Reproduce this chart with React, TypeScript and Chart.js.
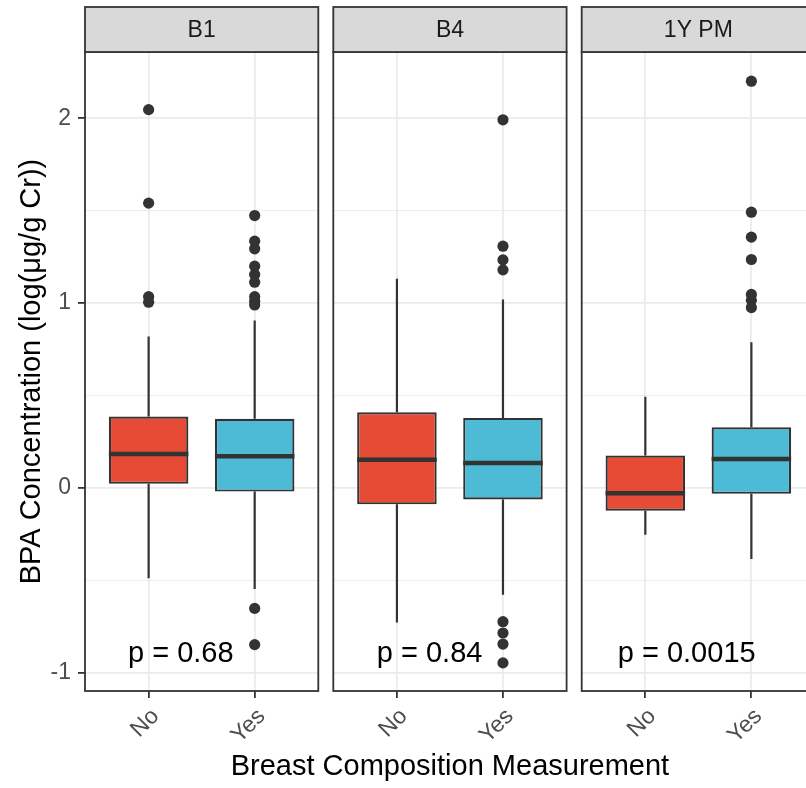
import React, { useEffect, useRef } from "react";
import { Chart, registerables } from "chart.js";
Chart.register(...registerables);

// ---------- data ----------
const panels = ["B1", "B4", "1Y PM"];
const groups = ["No", "Yes"];
const groupColors = ["#E64B35", "#4DBBD5"];

// per panel: [No, Yes]
const lowerWhisker = [[-0.489, -0.547], [-0.728, -0.578], [-0.253, -0.384]];
const q1 = [[0.022, -0.02], [-0.089, -0.063], [-0.123, -0.032]];
const median = [[0.184, 0.171], [0.152, 0.135], [-0.029, 0.157]];
const q3 = [[0.386, 0.374], [0.409, 0.379], [0.175, 0.328]];
const upperWhisker = [[0.819, 0.906], [1.132, 1.019], [0.494, 0.788]];
const outliersNo = [[2.047, 1.541, 1.035, 1.005], [], []];
const outliersYes = [
  [1.474, 1.335, 1.294, 1.2, 1.155, 1.113, 1.035, 1.01, 0.99, -0.652, -0.848],
  [1.992, 1.308, 1.234, 1.18, -0.724, -0.785, -0.845, -0.947],
  [2.201, 1.492, 1.357, 1.236, 1.047, 1.015, 0.976],
];
const pLabels = ["p = 0.68", "p = 0.84", "p = 0.0015"];
const pLabelX = [0.805, 0.81, 0.74];
const pLabelY = -0.9;
const yMin = -1.099;
const yMax = 2.359;
const yTicks = [-1, -0.5, 0, 0.5, 1, 1.5, 2];
const xTitle = "Breast Composition Measurement";
const yTitle = "BPA Concentration (log(μg/g Cr))";

// ---------- layout ----------
const W = 830;
const H = 788;
const FONT = '"Liberation Sans", Arial, Helvetica, sans-serif';
const panelLeft = [85, 333.3, 581.7];
const panelWidth = 233.3;
const panelTop = 52;
const stripH = 45;
const xAxisH = 97;
const DARK = "#333333";

function makeConfig(i: number): any {
  const isInt = (v: number) => Math.abs(v - Math.round(v)) < 1e-9;
  const plugin = {
    id: "facet" + i,
    beforeDatasetsDraw(chart: any) {
      const { ctx, scales } = chart;
      const x = scales.x;
      const y = scales.y;
      ctx.save();
      ctx.strokeStyle = DARK;
      ctx.lineWidth = 2.2;
      ctx.lineCap = "butt";
      for (let g = 0; g < groups.length; g++) {
        const px = x.getPixelForValue(g + 1);
        ctx.beginPath();
        ctx.moveTo(px, y.getPixelForValue(upperWhisker[i][g]));
        ctx.lineTo(px, y.getPixelForValue(q3[i][g]));
        ctx.moveTo(px, y.getPixelForValue(q1[i][g]));
        ctx.lineTo(px, y.getPixelForValue(lowerWhisker[i][g]));
        ctx.stroke();
      }
      ctx.restore();
    },
    afterDatasetsDraw(chart: any) {
      const { ctx, scales } = chart;
      const x = scales.x;
      const y = scales.y;
      ctx.save();
      ctx.strokeStyle = DARK;
      ctx.lineWidth = 4.5;
      ctx.lineCap = "butt";
      for (let g = 0; g < groups.length; g++) {
        const x0 = x.getPixelForValue(g + 1 - 0.375);
        const x1 = x.getPixelForValue(g + 1 + 0.375);
        const py = y.getPixelForValue(median[i][g]);
        ctx.beginPath();
        ctx.moveTo(x0, py);
        ctx.lineTo(x1, py);
        ctx.stroke();
      }
      ctx.fillStyle = "#000000";
      ctx.font = "29px " + FONT;
      ctx.textAlign = "left";
      ctx.textBaseline = "middle";
      ctx.fillText(pLabels[i], x.getPixelForValue(pLabelX[i]), y.getPixelForValue(pLabelY));
      ctx.restore();
    },
    afterDraw(chart: any) {
      const { ctx, chartArea: a, scales } = chart;
      ctx.save();
      ctx.strokeStyle = DARK;
      ctx.lineWidth = 1.8;
      ctx.strokeRect(a.left, a.top, a.right - a.left, a.bottom - a.top);
      ctx.fillStyle = "#d9d9d9";
      ctx.fillRect(a.left, a.top - stripH, a.right - a.left, stripH);
      ctx.strokeRect(a.left, a.top - stripH, a.right - a.left, stripH);
      ctx.fillStyle = "#1a1a1a";
      ctx.font = "23px " + FONT;
      ctx.textAlign = "center";
      ctx.textBaseline = "middle";
      ctx.fillText(panels[i], (a.left + a.right) / 2, a.top - stripH / 2 + 1);
      if (i === 1) {
        const x = scales.x;
        ctx.fillStyle = "#000000";
        ctx.font = "29px " + FONT;
        ctx.fillText(xTitle, (x.left + x.right) / 2, 766.5);
      }
      ctx.restore();
    },
  };

  const boxData = groups.map((_, g) => ({ x: g + 1, y: [q1[i][g], q3[i][g]] }));
  const pointData = [
    ...outliersNo[i].map((v) => ({ x: 1, y: v })),
    ...outliersYes[i].map((v) => ({ x: 2, y: v })),
  ];

  return {
    type: "bar",
    data: {
      datasets: [
        {
          type: "scatter",
          data: pointData,
          pointRadius: 5.6,
          pointBackgroundColor: DARK,
          pointBorderColor: DARK,
          pointBorderWidth: 0,
          order: 0,
        },
        {
          type: "bar",
          data: boxData,
          backgroundColor: groupColors,
          borderColor: DARK,
          borderWidth: 2.2,
          borderSkipped: false,
          barPercentage: 0.75,
          categoryPercentage: 1,
          order: 1,
        },
      ],
    },
    options: {
      animation: false,
      responsive: false,
      devicePixelRatio: 1,
      events: [],
      layout: {
        padding: {
          top: panelTop,
          bottom: 0,
          left: i === 0 ? 0 : panelLeft[i],
          right: W - (panelLeft[i] + panelWidth),
        },
      },
      plugins: { legend: { display: false }, tooltip: { enabled: false }, title: { display: false } },
      scales: {
        x: {
          type: "linear",
          min: 0.4,
          max: 2.6,
          offset: false,
          afterBuildTicks: (s: any) => {
            s.ticks = groups.map((_, k) => ({ value: k + 1 }));
          },
          afterFit: (s: any) => {
            s.height = xAxisH;
          },
          ticks: {
            autoSkip: false,
            minRotation: 45,
            maxRotation: 45,
            padding: 5,
            labelOffset: 7,
            color: "#4d4d4d",
            font: { family: FONT, size: 23 },
            callback: (_v: any, idx: number) => groups[idx],
          },
          grid: {
            offset: false,
            color: "#ebebeb",
            lineWidth: 1.8,
            drawTicks: true,
            tickLength: 7,
            tickWidth: 1.8,
            tickColor: DARK,
          },
          border: { display: false },
          title: { display: false },
        },
        y: {
          type: "linear",
          min: yMin,
          max: yMax,
          afterBuildTicks: (s: any) => {
            s.ticks = yTicks.map((v) => ({ value: v }));
          },
          afterFit: (s: any) => {
            s.width = i === 0 ? panelLeft[0] : 0;
          },
          ticks: {
            display: i === 0,
            autoSkip: false,
            padding: 7,
            color: "#4d4d4d",
            font: { family: FONT, size: 23 },
            callback: (v: any) => (isInt(v) ? String(Math.round(v)) : ""),
          },
          grid: {
            color: "#ebebeb",
            lineWidth: (c: any) => (c.tick && isInt(c.tick.value) ? 1.8 : 0.9),
            drawTicks: i === 0,
            tickLength: 7,
            tickWidth: 1.8,
            tickColor: (c: any) => (c.tick && isInt(c.tick.value) ? DARK : "rgba(0,0,0,0)"),
          },
          border: { display: false },
          title: {
            display: i === 0,
            text: yTitle,
            color: "#000000",
            font: { family: FONT, size: 29 },
            padding: { top: 15, bottom: 0 },
          },
        },
      },
    },
    plugins: [plugin],
  };
}

export default function App() {
  const refs = useRef<(HTMLCanvasElement | null)[]>([]);
  useEffect(() => {
    Chart.defaults.font.family = FONT;
    const charts = panels.map((_, i) => new Chart(refs.current[i] as HTMLCanvasElement, makeConfig(i)));
    return () => charts.forEach((c) => c.destroy());
  }, []);
  return (
    <div
      style={{
        position: "fixed",
        left: 0,
        top: 0,
        width: 806,
        height: H,
        overflow: "hidden",
        background: "#ffffff",
      }}
    >
      {panels.map((p, i) => (
        <canvas
          key={p}
          ref={(el) => {
            refs.current[i] = el;
          }}
          width={W}
          height={H}
          style={{ position: "absolute", left: 0, top: 0, width: W, height: H }}
        />
      ))}
    </div>
  );
}
